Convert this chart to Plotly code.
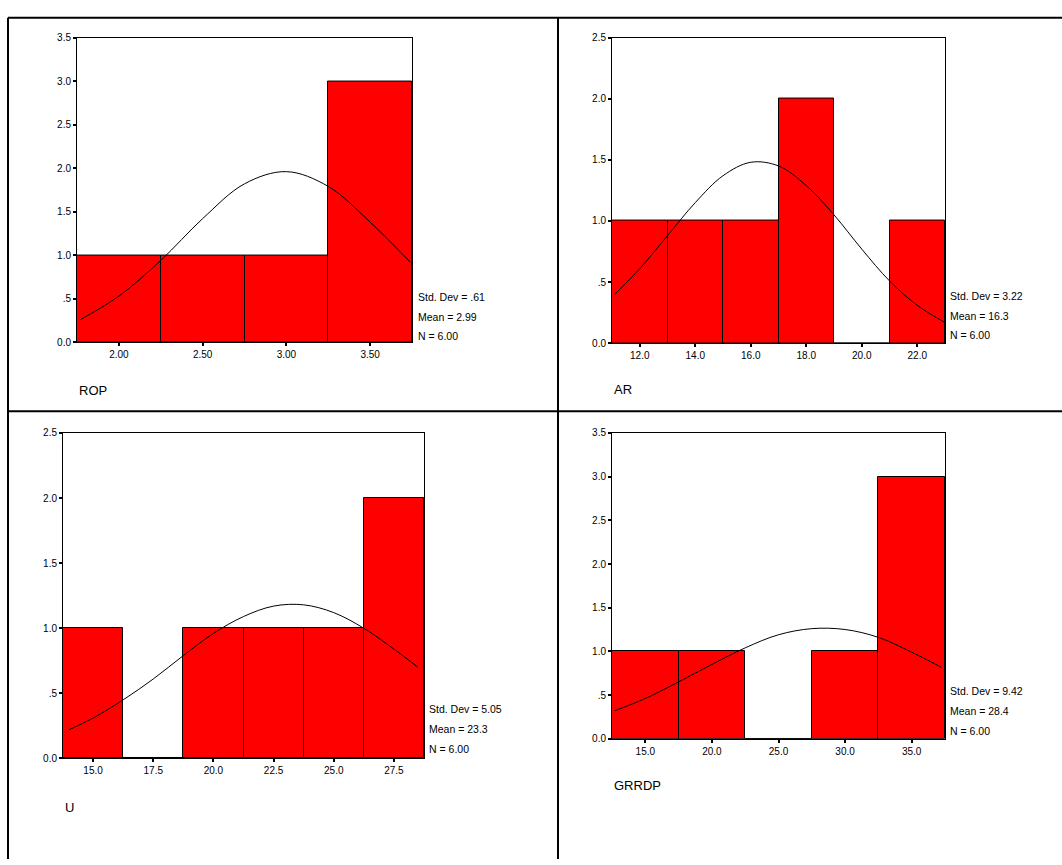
import plotly.graph_objects as go

W, H = 1062, 865

# ---------------- data ----------------
rop_centers = [2.0, 2.5, 3.0, 3.5]
rop_counts = [1, 1, 1, 3]
rop_curve_x = [1.77, 2.0, 2.25, 2.5, 2.75, 3.0, 3.25, 3.5, 3.74]
rop_curve_y = [0.26, 0.53, 0.94, 1.42, 1.82, 1.96, 1.79, 1.38, 0.92]
rop_stats = ["Std. Dev = .61", "Mean = 2.99", "N = 6.00"]

ar_centers = [12.0, 14.0, 16.0, 18.0, 20.0, 22.0]
ar_counts = [1, 1, 1, 2, 0, 1]
ar_curve_x = [11.1, 12, 13, 14, 15, 16, 17, 18, 19, 20, 21, 22, 23]
ar_curve_y = [0.40, 0.61, 0.88, 1.15, 1.37, 1.48, 1.45, 1.29, 1.05, 0.77, 0.51, 0.31, 0.17]
ar_stats = ["Std. Dev = 3.22", "Mean = 16.3", "N = 6.00"]

u_centers = [15.0, 17.5, 20.0, 22.5, 25.0, 27.5]
u_counts = [1, 0, 1, 1, 1, 2]
u_curve_x = [14.0, 15.0, 16.25, 17.5, 18.75, 20.0, 21.25, 22.5, 23.75, 25.0, 26.25, 27.5, 28.5]
u_curve_y = [0.22, 0.31, 0.45, 0.61, 0.79, 0.96, 1.09, 1.17, 1.18, 1.12, 1.00, 0.84, 0.70]
u_stats = ["Std. Dev = 5.05", "Mean = 23.3", "N = 6.00"]

g_centers = [15.0, 20.0, 25.0, 30.0, 35.0]
g_counts = [1, 1, 0, 1, 3]
g_curve_x = [12.7, 15.0, 17.5, 20.0, 22.5, 25.0, 27.5, 30.0, 32.5, 35.0, 37.2]
g_curve_y = [0.32, 0.46, 0.65, 0.85, 1.04, 1.19, 1.26, 1.25, 1.16, 0.99, 0.82]
g_stats = ["Std. Dev = 9.42", "Mean = 28.4", "N = 6.00"]

y_ticks_35 = [0, 0.5, 1.0, 1.5, 2.0, 2.5, 3.0, 3.5]
y_text_35 = ["0.0", ".5", "1.0", "1.5", "2.0", "2.5", "3.0", "3.5"]
y_ticks_25 = [0, 0.5, 1.0, 1.5, 2.0, 2.5]
y_text_25 = ["0.0", ".5", "1.0", "1.5", "2.0", "2.5"]

panels = [
    dict(name="ROP", centers=rop_centers, counts=rop_counts, width=0.5,
         cx=rop_curve_x, cy=rop_curve_y, stats=rop_stats,
         xrange=[1.75, 3.75], xticks=[2.0, 2.5, 3.0, 3.5],
         xtext=["2.00", "2.50", "3.00", "3.50"],
         yrange=[0, 3.5], yt=y_ticks_35, ytt=y_text_35,
         box=(77, 412, 32, 341), stat_xy=(416, 295), label_xy=(77, 390)),
    dict(name="AR", centers=ar_centers, counts=ar_counts, width=2.0,
         cx=ar_curve_x, cy=ar_curve_y, stats=ar_stats,
         xrange=[11, 23], xticks=[12, 14, 16, 18, 20, 22],
         xtext=["12.0", "14.0", "16.0", "18.0", "20.0", "22.0"],
         yrange=[0, 2.5], yt=y_ticks_25, ytt=y_text_25,
         box=(612, 945, 32, 342), stat_xy=(948, 294), label_xy=(612, 389)),
    dict(name="U", centers=u_centers, counts=u_counts, width=2.5,
         cx=u_curve_x, cy=u_curve_y, stats=u_stats,
         xrange=[13.75, 28.75], xticks=[15, 17.5, 20, 22.5, 25, 27.5],
         xtext=["15.0", "17.5", "20.0", "22.5", "25.0", "27.5"],
         yrange=[0, 2.5], yt=y_ticks_25, ytt=y_text_25,
         box=(63, 424, 433, 763), stat_xy=(427, 713), label_xy=(63, 813)),
    dict(name="GRRDP", centers=g_centers, counts=g_counts, width=5.0,
         cx=g_curve_x, cy=g_curve_y, stats=g_stats,
         xrange=[12.5, 37.5], xticks=[15, 20, 25, 30, 35],
         xtext=["15.0", "20.0", "25.0", "30.0", "35.0"],
         yrange=[0, 3.5], yt=y_ticks_35, ytt=y_text_35,
         box=(612, 945, 433, 743), stat_xy=(948, 695), label_xy=(612, 790)),
]

FONT = "Liberation Sans, Arial, sans-serif"
fig = go.Figure()
annotations = []
layout_axes = {}

for i, p in enumerate(panels, start=1):
    xa = "x" if i == 1 else f"x{i}"
    ya = "y" if i == 1 else f"y{i}"
    fig.add_trace(go.Bar(
        x=p["centers"], y=p["counts"], width=p["width"],
        marker=dict(color="#FF0000", line=dict(color="black", width=1)),
        xaxis=xa, yaxis=ya, showlegend=False, hoverinfo="skip"))
    fig.add_trace(go.Scatter(
        x=p["cx"], y=p["cy"], mode="lines", line=dict(color="black", width=1, shape="spline"),
        xaxis=xa, yaxis=ya, showlegend=False, hoverinfo="skip"))
    x0, x1, y0, y1 = p["box"]
    xkey = "xaxis" if i == 1 else f"xaxis{i}"
    ykey = "yaxis" if i == 1 else f"yaxis{i}"
    layout_axes[xkey] = dict(
        domain=[x0 / W, x1 / W], range=p["xrange"], anchor=ya,
        tickvals=p["xticks"], ticktext=p["xtext"], ticks="outside", ticklen=3,
        tickwidth=2, tickcolor="black", showline=True, linecolor="black", linewidth=1,
        mirror=True, showgrid=False, zeroline=False,
        tickfont=dict(family=FONT, size=10, color="black"))
    layout_axes[ykey] = dict(
        domain=[1 - y1 / H, 1 - y0 / H], range=p["yrange"], anchor=xa,
        tickvals=p["yt"], ticktext=p["ytt"], ticks="outside", ticklen=3,
        tickwidth=2, tickcolor="black", showline=True, linecolor="black", linewidth=1,
        mirror=True, showgrid=False, zeroline=False,
        tickfont=dict(family=FONT, size=10, color="black"))
    sx, sy = p["stat_xy"]
    for k, s in enumerate(p["stats"]):
        annotations.append(dict(
            text=s, x=sx / W, y=1 - (sy + 20 * k) / H, xref="paper", yref="paper",
            xanchor="left", yanchor="middle", showarrow=False,
            font=dict(family=FONT, size=10.5, color="black")))
    lx, ly = p["label_xy"]
    annotations.append(dict(
        text=p["name"], x=lx / W, y=1 - ly / H, xref="paper", yref="paper",
        xanchor="left", yanchor="middle", showarrow=False,
        font=dict(family=FONT, size=13, color="black")))

# table grid lines
grid = [
    (8, 12, 1062, 12),
    (8, 12, 8, 865),
    (558, 12, 558, 865),
    (8, 411, 1062, 411),
]
shapes = [dict(type="line", xref="paper", yref="paper",
               x0=a / W, y0=1 - b / H, x1=c / W, y1=1 - d / H,
               line=dict(color="black", width=2)) for a, b, c, d in grid]

fig.update_layout(
    width=W, height=H, margin=dict(l=0, r=0, t=0, b=0),
    paper_bgcolor="white", plot_bgcolor="white", bargap=0,
    annotations=annotations, shapes=shapes, **layout_axes)

fig.write_html(
    "out.html",
    config={"displayModeBar": False},
    post_script="document.body.style.margin='0';document.body.style.padding='0';"
                "document.documentElement.style.overflow='hidden';"
                "var d=document.getElementById('{plot_id}');"
                "d.style.position='absolute';d.style.top='0px';d.style.left='0px';")
